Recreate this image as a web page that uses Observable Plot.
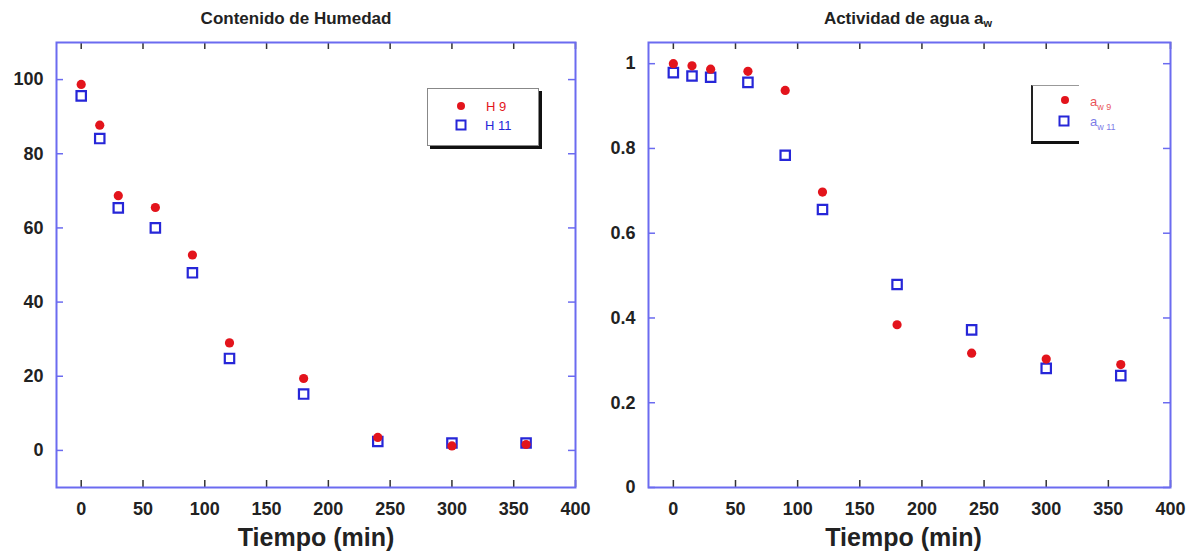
<!DOCTYPE html>
<html><head><meta charset="utf-8">
<script src="https://cdn.jsdelivr.net/npm/d3@7"></script>
<script src="https://cdn.jsdelivr.net/npm/@observablehq/plot@0.6"></script>
<style>
body{margin:0;background:#fff;font-family:"Liberation Sans",Arial,sans-serif;}
#wrap{position:relative;width:1190px;height:556px;overflow:hidden;background:#fff}
.plot{position:absolute;top:0}
.title{position:absolute;top:9px;font-weight:bold;font-size:17px;color:#222;white-space:nowrap;transform:translateX(-50%)}
.title sub{font-size:11px;vertical-align:-3px}
.legend{position:absolute;background:#fff}
.lg-row{position:absolute;font-size:13px;white-space:nowrap}
.lg-row svg{position:absolute}
</style>
</head><body>
<div id="wrap"></div>
<script>
// ---- data ----
const times = [0, 15, 30, 60, 90, 120, 180, 240, 300, 360];
const h9  = [98.7, 87.7, 68.7, 65.5, 52.7, 29.0, 19.4, 3.5, 1.2, 1.6];
const h11 = [95.6, 84.1, 65.4, 60.0, 47.9, 24.8, 15.2, 2.4, 2.0, 2.0];
const aw9  = [1.000, 0.995, 0.987, 0.982, 0.937, 0.697, 0.384, 0.317, 0.303, 0.290];
const aw11 = [0.979, 0.971, 0.968, 0.956, 0.784, 0.656, 0.479, 0.372, 0.281, 0.264];
const xTicks = [0, 50, 100, 150, 200, 250, 300, 350, 400];
const yTicksH = [0, 20, 40, 60, 80, 100];
const yTicksA = [0, 0.2, 0.4, 0.6, 0.8, 1];
const xLabel = "Tiempo (min)";

const RED = "#e3141c", BLUE = "#2626d8", FRAME = "#6b6bf0";

function panel({y9, y11, yDomain, yTicks, marginLeft, labelDx}) {
  const W = 595, H = 556, mt = 42, mb = 69, mr = 20;
  const fh = H - mt - mb, fw = W - marginLeft - mr, tl = 7;
  const rows9 = times.map((t, i) => ({t, v: y9[i]}));
  const rows11 = times.map((t, i) => ({t, v: y11[i]}));
  return Plot.plot({
    width: W, height: H, marginTop: mt, marginBottom: mb, marginLeft, marginRight: mr,
    x: {domain: [-20, 400]},
    y: {domain: yDomain},
    style: {fontFamily: "Liberation Sans, Arial, sans-serif", color: "#222", background: "transparent"},
    marks: [
      Plot.axisX(xTicks, {tickSize: 0, tickPadding: 15, fontSize: 18, fontWeight: "bold", label: null, tickFormat: d3.format("~g")}),
      Plot.axisY(yTicks, {tickSize: 0, tickPadding: 13, fontSize: 18, fontWeight: "bold", label: null, tickFormat: d3.format("~g")}),
      Plot.tickX(xTicks, {x: d => d, insetTop: fh - tl, stroke: "#333", strokeWidth: 1.5}),
      Plot.tickX(xTicks, {x: d => d, insetBottom: fh - tl, stroke: "#333", strokeWidth: 1.5}),
      Plot.tickY(yTicks, {y: d => d, insetRight: fw - tl, stroke: FRAME, strokeWidth: 1.5}),
      Plot.tickY(yTicks, {y: d => d, insetLeft: fw - tl, stroke: FRAME, strokeWidth: 1.5}),
      Plot.frame({stroke: FRAME, strokeWidth: 2}),
      Plot.dot(rows11, {x: "t", y: "v", symbol: "square", r: 5.3, stroke: BLUE, strokeWidth: 2.2, fill: "none"}),
      Plot.dot(rows9, {x: "t", y: "v", r: 4.6, fill: RED, stroke: "none"}),
      Plot.text([xLabel], {text: d => d, frameAnchor: "bottom", dy: 58, dx: labelDx, fontSize: 25, fontWeight: "bold", fill: "#222"})
    ]
  });
}

const wrap = document.getElementById("wrap");
const p1 = panel({y9: h9, y11: h11, yDomain: [-10, 110], yTicks: yTicksH, marginLeft: 56, labelDx: 0});
p1.classList.add("plot"); p1.style.left = "0px";
wrap.appendChild(p1);
const p2 = panel({y9: aw9, y11: aw11, yDomain: [0, 1.05], yTicks: yTicksA, marginLeft: 53, labelDx: -6});
p2.classList.add("plot"); p2.style.left = "595px";
wrap.appendChild(p2);

function add(html) { wrap.insertAdjacentHTML("beforeend", html); }
const dotSvg = `<svg width="10" height="10"><circle cx="5" cy="5" r="4" fill="${RED}"/></svg>`;
const sqSvg = `<svg width="12" height="12"><rect x="1.5" y="1.5" width="9" height="9" fill="none" stroke="${BLUE}" stroke-width="2"/></svg>`;

add(`<div class="title" style="left:296px">Contenido de Humedad</div>`);
add(`<div class="title" style="left:908px">Actividad de agua a<sub>w</sub></div>`);

// left legend
add(`<div class="legend" style="left:427px;top:88px;width:110px;height:56px;border:1px solid #888;box-shadow:3px 3px 0 #111"></div>`);
add(`<div class="lg-row" style="left:456px;top:99px">${dotSvg.replace('<svg','<svg style="left:0;top:2px"')}<span style="position:absolute;left:30px;color:${RED}">H 9</span></div>`);
add(`<div class="lg-row" style="left:455px;top:118px">${sqSvg.replace('<svg','<svg style="left:0;top:1px"')}<span style="position:absolute;left:30px;color:${BLUE}">H 11</span></div>`);

// right legend
add(`<div class="legend" style="left:1031px;top:85px;width:46px;height:55px;border-left:2px solid #222;border-top:1px solid #999;border-bottom:3px solid #111"></div>`);
add(`<div class="lg-row" style="left:1060px;top:94px">${dotSvg.replace('<svg','<svg style="left:0;top:1px"')}<span style="position:absolute;left:30px;color:${RED};opacity:.75">a<sub style="font-size:9px">w 9</sub></span></div>`);
add(`<div class="lg-row" style="left:1058px;top:114px">${sqSvg.replace('<svg','<svg style="left:0;top:1px"')}<span style="position:absolute;left:32px;color:${BLUE};opacity:.6">a<sub style="font-size:9px">w 11</sub></span></div>`);
</script>
</body></html>
